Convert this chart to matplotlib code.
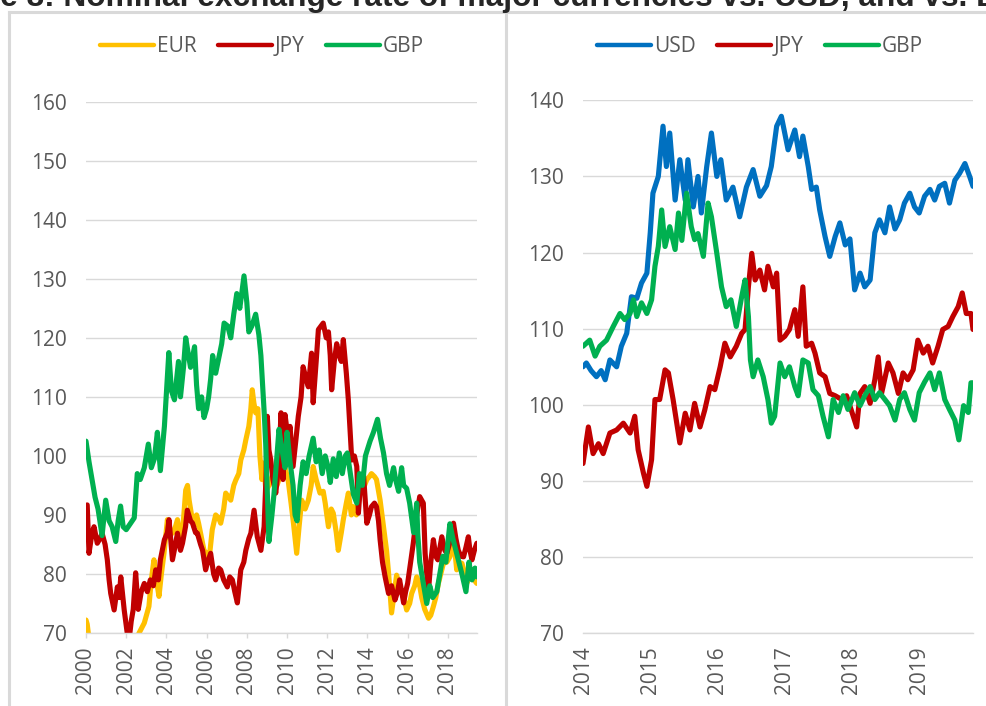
import numpy as np
import matplotlib
matplotlib.use('Agg')
import matplotlib.pyplot as plt
from matplotlib.lines import Line2D

# (year, index value) pairs
eur_left = [
    (2000.0, 72.2), (2000.06, 71.5), (2000.15, 69.0), (2000.4, 67.0), (2000.7, 65.0),
    (2001.0, 67.0), (2001.3, 66.0), (2001.6, 66.0), (2001.9, 67.0), (2002.2, 66.0),
    (2002.45, 68.5), (2002.64, 70.0), (2002.9, 71.7), (2003.13, 74.5), (2003.25, 79.0),
    (2003.38, 82.4), (2003.5, 79.0), (2003.63, 76.2), (2003.75, 80.0), (2003.88, 83.5),
    (2004.05, 89.2), (2004.15, 87.0), (2004.3, 86.9), (2004.45, 88.0), (2004.55, 89.2),
    (2004.7, 86.0), (2004.8, 87.0), (2004.96, 94.2), (2005.05, 95.0), (2005.13, 92.5),
    (2005.25, 90.0), (2005.37, 88.0), (2005.5, 90.0), (2005.6, 88.6), (2005.75, 86.0),
    (2005.87, 84.0), (2006.0, 83.5), (2006.12, 82.4), (2006.28, 87.5), (2006.45, 90.0),
    (2006.6, 89.5), (2006.7, 88.6), (2006.85, 91.0), (2006.95, 93.7), (2007.1, 93.0),
    (2007.2, 92.5), (2007.35, 95.0), (2007.45, 95.9), (2007.6, 97.0), (2007.7, 99.3),
    (2007.85, 101.0), (2007.95, 102.7), (2008.1, 105.0), (2008.2, 108.0), (2008.27, 111.2),
    (2008.35, 109.0), (2008.44, 107.3), (2008.55, 108.0), (2008.65, 100.0), (2008.75, 96.0),
    (2008.84, 98.8), (2008.95, 94.0), (2009.1, 95.0), (2009.3, 97.0), (2009.5, 95.0),
    (2009.7, 97.0), (2009.9, 98.0), (2010.05, 96.0), (2010.2, 92.0), (2010.32, 88.6),
    (2010.48, 83.5), (2010.6, 88.0), (2010.73, 92.5), (2010.9, 91.0), (2011.06, 92.5),
    (2011.2, 95.0), (2011.3, 98.2), (2011.45, 96.0), (2011.64, 93.7), (2011.8, 94.0),
    (2011.9, 92.0), (2012.06, 88.0), (2012.2, 91.0), (2012.3, 90.3), (2012.45, 87.0),
    (2012.55, 84.0), (2012.7, 87.0), (2012.8, 89.2), (2012.95, 92.0), (2013.05, 93.7),
    (2013.2, 90.0), (2013.3, 91.4), (2013.45, 90.0), (2013.63, 93.7), (2013.8, 94.5),
    (2013.97, 96.0), (2014.1, 96.5), (2014.2, 97.0), (2014.35, 96.5), (2014.45, 96.0),
    (2014.63, 92.5), (2014.8, 88.0), (2014.95, 84.0), (2015.05, 80.2), (2015.2, 73.4),
    (2015.3, 76.0), (2015.45, 79.8), (2015.6, 78.0), (2015.7, 77.0), (2015.85, 75.5),
    (2015.95, 73.9), (2016.1, 75.0), (2016.2, 76.7), (2016.35, 78.0), (2016.45, 79.5),
    (2016.6, 78.0), (2016.7, 76.0), (2016.85, 74.0), (2017.04, 72.5), (2017.15, 73.0),
    (2017.28, 74.5), (2017.4, 76.0), (2017.53, 78.4), (2017.65, 80.0), (2017.78, 81.8),
    (2017.95, 82.0), (2018.1, 82.9), (2018.2, 84.0), (2018.28, 86.3), (2018.44, 80.7),
    (2018.55, 82.0), (2018.7, 81.8), (2018.85, 80.0), (2018.94, 78.4), (2019.05, 79.5),
    (2019.2, 80.7), (2019.3, 79.0), (2019.44, 78.4),
]

jpy_left = [
    (2000.0, 91.5), (2000.06, 91.7), (2000.15, 83.5), (2000.3, 87.0), (2000.4, 88.0),
    (2000.56, 85.2), (2000.7, 86.0), (2000.8, 86.9), (2000.95, 85.0), (2001.06, 82.4),
    (2001.15, 79.0), (2001.23, 76.7), (2001.4, 73.9), (2001.56, 77.8), (2001.65, 76.0),
    (2001.73, 79.5), (2001.9, 73.9), (2002.05, 70.0), (2002.15, 69.0), (2002.25, 72.0),
    (2002.35, 74.0), (2002.47, 80.2), (2002.6, 74.0), (2002.75, 77.0), (2002.9, 78.4),
    (2003.05, 77.0), (2003.2, 79.0), (2003.35, 78.0), (2003.47, 80.7), (2003.6, 79.0),
    (2003.7, 82.4), (2003.9, 85.8), (2004.05, 87.0), (2004.13, 89.2), (2004.3, 82.4),
    (2004.45, 85.0), (2004.55, 86.9), (2004.7, 84.0), (2004.8, 85.2), (2004.95, 88.0),
    (2005.04, 90.8), (2005.2, 89.0), (2005.3, 88.6), (2005.45, 87.0), (2005.54, 86.9),
    (2005.7, 85.0), (2005.8, 84.0), (2005.95, 80.7), (2006.05, 82.0), (2006.2, 83.5),
    (2006.35, 80.0), (2006.45, 79.0), (2006.6, 81.0), (2006.7, 80.7), (2006.85, 79.0),
    (2007.03, 77.8), (2007.15, 79.5), (2007.28, 79.0), (2007.4, 77.0), (2007.53, 75.1),
    (2007.7, 80.7), (2007.85, 82.0), (2007.95, 84.0), (2008.1, 86.0), (2008.2, 86.9),
    (2008.36, 90.8), (2008.52, 86.3), (2008.7, 84.0), (2008.86, 88.0), (2008.95, 96.0),
    (2009.02, 106.7), (2009.1, 101.0), (2009.19, 99.3), (2009.3, 96.0), (2009.44, 93.7),
    (2009.6, 99.0), (2009.7, 107.3), (2009.8, 96.0), (2009.9, 107.0), (2010.05, 103.0),
    (2010.15, 105.0), (2010.3, 98.2), (2010.45, 103.0), (2010.56, 106.7), (2010.7, 110.0),
    (2010.8, 115.1), (2010.95, 113.0), (2011.06, 111.7), (2011.22, 117.4), (2011.3, 109.0),
    (2011.45, 116.0), (2011.56, 121.4), (2011.8, 122.5), (2011.95, 120.0), (2012.06, 121.0),
    (2012.15, 117.0), (2012.22, 111.2), (2012.35, 116.0), (2012.47, 119.0), (2012.6, 117.0),
    (2012.7, 116.0), (2012.8, 119.7), (2012.95, 114.0), (2013.05, 109.5), (2013.22, 99.3),
    (2013.35, 100.0), (2013.47, 98.2), (2013.55, 90.3), (2013.65, 95.0), (2013.8, 97.0),
    (2013.97, 88.6), (2014.1, 90.0), (2014.2, 91.4), (2014.35, 92.0), (2014.45, 91.4),
    (2014.55, 89.0), (2014.63, 85.8), (2014.75, 82.0), (2014.88, 79.5), (2015.05, 76.7),
    (2015.2, 78.0), (2015.37, 75.6), (2015.5, 77.0), (2015.6, 79.0), (2015.8, 75.1),
    (2015.9, 77.0), (2016.0, 78.4), (2016.15, 82.0), (2016.28, 85.2), (2016.45, 90.0),
    (2016.6, 93.1), (2016.78, 92.0), (2016.87, 83.5), (2016.95, 80.0), (2017.04, 77.3),
    (2017.15, 82.0), (2017.28, 85.8), (2017.4, 83.0), (2017.5, 82.4), (2017.7, 86.3),
    (2017.85, 84.0), (2017.95, 83.5), (2018.15, 86.0), (2018.28, 88.6), (2018.4, 86.0),
    (2018.52, 84.0), (2018.65, 83.0), (2018.78, 82.9), (2018.9, 84.5), (2019.02, 86.3),
    (2019.1, 84.0), (2019.2, 82.4), (2019.32, 84.0), (2019.44, 85.2),
]

gbp_left = [
    (2000.0, 102.5), (2000.15, 99.0), (2000.3, 96.0), (2000.45, 93.0), (2000.6, 91.0),
    (2000.8, 86.5), (2000.98, 92.5), (2001.15, 89.0), (2001.3, 88.0), (2001.48, 85.5),
    (2001.6, 89.0), (2001.72, 91.5), (2001.85, 88.0), (2002.0, 87.5), (2002.2, 88.5),
    (2002.4, 89.5), (2002.55, 97.0), (2002.7, 96.0), (2002.9, 98.0), (2003.1, 102.0),
    (2003.25, 98.0), (2003.4, 99.5), (2003.55, 104.0), (2003.7, 97.5), (2003.9, 105.0),
    (2004.05, 113.5), (2004.12, 117.5), (2004.25, 111.0), (2004.4, 109.5), (2004.6, 116.0),
    (2004.7, 110.0), (2004.85, 115.0), (2004.96, 120.0), (2005.1, 117.0), (2005.2, 115.0),
    (2005.4, 118.5), (2005.5, 112.0), (2005.6, 108.0), (2005.75, 110.0), (2005.87, 106.5),
    (2006.0, 108.0), (2006.1, 110.0), (2006.2, 113.0), (2006.3, 117.0), (2006.45, 114.0),
    (2006.6, 116.5), (2006.75, 119.0), (2006.87, 122.5), (2007.05, 122.0), (2007.2, 120.0),
    (2007.35, 124.0), (2007.5, 127.5), (2007.65, 125.0), (2007.86, 130.5), (2008.0, 126.0),
    (2008.1, 121.0), (2008.25, 122.0), (2008.44, 124.0), (2008.6, 120.5), (2008.7, 117.0),
    (2008.77, 113.0), (2008.87, 107.0), (2008.94, 102.0), (2009.02, 94.0), (2009.1, 85.5),
    (2009.25, 90.0), (2009.35, 93.5), (2009.5, 100.0), (2009.6, 104.5), (2009.75, 101.0),
    (2009.9, 98.0), (2010.0, 104.0), (2010.15, 99.0), (2010.3, 95.0), (2010.4, 90.0),
    (2010.5, 89.0), (2010.65, 95.0), (2010.8, 99.0), (2010.95, 97.0), (2011.1, 100.0),
    (2011.3, 103.0), (2011.45, 99.0), (2011.6, 101.0), (2011.75, 97.0), (2011.9, 100.0),
    (2012.05, 98.0), (2012.15, 95.5), (2012.3, 99.5), (2012.45, 96.5), (2012.6, 100.5),
    (2012.75, 97.0), (2012.9, 100.0), (2013.0, 100.5), (2013.15, 97.0), (2013.3, 93.5),
    (2013.47, 92.0), (2013.6, 97.0), (2013.75, 95.0), (2013.9, 100.0), (2014.13, 102.5),
    (2014.3, 104.0), (2014.5, 106.2), (2014.65, 103.0), (2014.8, 100.5), (2014.95, 97.0),
    (2015.1, 95.0), (2015.3, 98.0), (2015.4, 96.0), (2015.55, 94.0), (2015.7, 98.0),
    (2015.8, 95.0), (2015.95, 94.5), (2016.1, 92.0), (2016.3, 87.0), (2016.45, 92.0),
    (2016.5, 87.0), (2016.6, 82.0), (2016.75, 79.0), (2016.95, 75.0), (2017.1, 78.0),
    (2017.25, 76.0), (2017.45, 77.0), (2017.6, 80.0), (2017.75, 83.0), (2017.9, 82.0),
    (2018.1, 88.5), (2018.25, 86.0), (2018.4, 84.0), (2018.55, 82.0), (2018.7, 80.0),
    (2018.9, 77.0), (2019.05, 82.0), (2019.2, 79.0), (2019.35, 81.0), (2019.44, 79.5),
]

usd_right = [
    (2014.0, 105.0), (2014.05, 105.5), (2014.12, 104.5), (2014.2, 103.7), (2014.27, 104.5),
    (2014.33, 103.3), (2014.4, 105.9), (2014.5, 105.0), (2014.57, 107.7), (2014.65, 109.4),
    (2014.72, 114.2), (2014.8, 114.0), (2014.87, 116.0), (2014.95, 117.3), (2015.0, 122.6),
    (2015.04, 127.8), (2015.12, 130.0), (2015.19, 136.6), (2015.24, 131.3), (2015.29, 135.7),
    (2015.37, 126.9), (2015.44, 132.2), (2015.52, 126.9), (2015.56, 132.2), (2015.64, 126.0),
    (2015.71, 130.0), (2015.76, 125.2), (2015.84, 131.3), (2015.91, 135.7), (2015.99, 130.0),
    (2016.05, 132.2), (2016.13, 126.9), (2016.23, 128.6), (2016.33, 124.7), (2016.43, 128.6),
    (2016.53, 130.9), (2016.63, 127.4), (2016.73, 128.8), (2016.8, 131.3), (2016.88, 136.6),
    (2016.95, 137.9), (2017.05, 133.5), (2017.15, 136.1), (2017.22, 132.6), (2017.27, 135.3),
    (2017.35, 131.3), (2017.4, 128.3), (2017.47, 128.6), (2017.52, 125.6), (2017.6, 122.1),
    (2017.67, 119.5), (2017.75, 122.1), (2017.82, 123.9), (2017.9, 121.0), (2017.97, 121.8),
    (2018.04, 115.1), (2018.12, 117.3), (2018.19, 115.5), (2018.27, 116.4), (2018.34, 122.6),
    (2018.41, 124.3), (2018.49, 122.6), (2018.56, 126.0), (2018.64, 123.1), (2018.71, 124.3),
    (2018.78, 126.5), (2018.86, 127.8), (2018.93, 126.0), (2019.0, 125.2), (2019.08, 127.4),
    (2019.16, 128.3), (2019.23, 126.9), (2019.3, 128.7), (2019.38, 129.1), (2019.45, 126.5),
    (2019.53, 129.5), (2019.6, 130.4), (2019.68, 131.7), (2019.75, 130.0), (2019.8, 128.7),
]

jpy_right = [
    (2014.0, 92.3), (2014.08, 97.1), (2014.15, 93.6), (2014.23, 94.9), (2014.3, 93.6),
    (2014.4, 96.3), (2014.5, 96.7), (2014.6, 97.6), (2014.7, 96.3), (2014.77, 98.5),
    (2014.82, 94.1), (2014.9, 91.0), (2014.95, 89.3), (2015.02, 92.8), (2015.07, 100.7),
    (2015.14, 100.7), (2015.22, 104.6), (2015.27, 104.2), (2015.34, 100.7), (2015.44, 95.0),
    (2015.52, 98.9), (2015.59, 96.7), (2015.66, 100.2), (2015.74, 97.1), (2015.81, 99.3),
    (2015.89, 102.4), (2015.96, 102.0), (2016.04, 105.0), (2016.11, 108.1), (2016.19, 106.3),
    (2016.28, 107.7), (2016.36, 109.4), (2016.41, 109.9), (2016.46, 115.5), (2016.51, 119.9),
    (2016.56, 116.4), (2016.63, 117.7), (2016.7, 115.1), (2016.75, 118.2), (2016.83, 115.5),
    (2016.88, 117.3), (2016.93, 108.5), (2017.0, 109.0), (2017.07, 109.9), (2017.15, 112.5),
    (2017.2, 109.0), (2017.27, 115.5), (2017.32, 107.7), (2017.4, 108.1), (2017.45, 106.8),
    (2017.52, 104.2), (2017.6, 103.7), (2017.67, 101.5), (2017.75, 101.2), (2017.85, 100.7),
    (2017.92, 101.2), (2017.99, 99.3), (2018.07, 97.1), (2018.12, 101.5), (2018.19, 102.4),
    (2018.27, 100.2), (2018.34, 103.3), (2018.39, 106.3), (2018.44, 101.5), (2018.54, 105.5),
    (2018.61, 104.2), (2018.69, 101.5), (2018.76, 104.2), (2018.83, 103.3), (2018.91, 104.6),
    (2018.98, 108.5), (2019.06, 106.8), (2019.13, 107.7), (2019.2, 105.5), (2019.28, 107.7),
    (2019.35, 109.9), (2019.43, 110.3), (2019.5, 111.6), (2019.58, 112.9), (2019.64, 114.7),
    (2019.7, 112.0), (2019.77, 112.0), (2019.8, 109.9),
]

gbp_right = [
    (2014.0, 107.7), (2014.1, 108.5), (2014.18, 106.4), (2014.25, 107.7), (2014.35, 108.5),
    (2014.45, 110.3), (2014.55, 112.0), (2014.62, 111.2), (2014.7, 112.0), (2014.75, 113.8),
    (2014.8, 111.6), (2014.87, 113.4), (2014.95, 112.0), (2015.02, 113.8), (2015.07, 118.2),
    (2015.12, 120.8), (2015.17, 125.6), (2015.22, 120.8), (2015.29, 123.4), (2015.37, 120.4),
    (2015.42, 125.2), (2015.47, 121.6), (2015.54, 127.8), (2015.61, 123.4), (2015.66, 121.7),
    (2015.71, 122.5), (2015.79, 119.5), (2015.86, 126.5), (2015.91, 124.7), (2015.99, 119.9),
    (2016.06, 115.5), (2016.13, 112.9), (2016.2, 113.8), (2016.28, 110.3), (2016.36, 114.2),
    (2016.41, 116.4), (2016.46, 111.6), (2016.49, 105.9), (2016.53, 103.7), (2016.6, 105.9),
    (2016.68, 103.7), (2016.75, 100.7), (2016.8, 97.6), (2016.85, 98.5), (2016.93, 105.5),
    (2017.0, 103.7), (2017.07, 105.0), (2017.15, 102.4), (2017.2, 101.2), (2017.27, 105.9),
    (2017.35, 105.5), (2017.42, 102.0), (2017.5, 101.2), (2017.57, 98.5), (2017.65, 95.8),
    (2017.72, 100.7), (2017.8, 99.0), (2017.87, 101.2), (2017.94, 99.4), (2018.04, 101.6),
    (2018.12, 99.9), (2018.19, 101.2), (2018.27, 102.4), (2018.34, 100.7), (2018.41, 101.6),
    (2018.49, 100.7), (2018.56, 99.9), (2018.64, 98.0), (2018.71, 100.7), (2018.78, 101.6),
    (2018.86, 99.4), (2018.93, 98.0), (2019.0, 101.6), (2019.08, 103.0), (2019.16, 104.2),
    (2019.23, 102.0), (2019.3, 104.2), (2019.38, 100.7), (2019.45, 99.4), (2019.53, 98.0),
    (2019.59, 95.4), (2019.66, 99.9), (2019.73, 99.0), (2019.77, 102.9), (2019.8, 102.9),
]

left_xticks = [2000, 2002, 2004, 2006, 2008, 2010, 2012, 2014, 2016, 2018]
right_xticks = [2014, 2015, 2016, 2017, 2018, 2019]
left_yticks = [70, 80, 90, 100, 110, 120, 130, 140, 150, 160]
right_yticks = [70, 80, 90, 100, 110, 120, 130, 140]

TITLE = 'Figure 8: Nominal exchange rate of major currencies vs. USD, and vs. EUR'

EUR_C = '#FFC000'
JPY_C = '#C00000'
GBP_C = '#00B050'
USD_C = '#0070C0'
GRID_C = '#D9D9D9'
TEXT_C = '#595959'

W, H = 986, 706
LW = 3.7
FS = 15

plt.rcParams['font.family'] = ['Open Sans', 'DejaVu Sans']


def px_rect(x0, y0, x1, y1):
    """Axes rectangle in figure fractions from pixel corners (top-left origin)."""
    return [x0 / W, 1 - y1 / H, (x1 - x0) / W, (y1 - y0) / H]


def style_axis(ax, xticks, yticks, xlim, ylim, tick_len):
    ax.set_xlim(*xlim)
    ax.set_ylim(*ylim)
    ax.set_xticks(xticks)
    ax.set_xticklabels([str(t) for t in xticks], rotation=90)
    ax.set_yticks(yticks)
    for side in ['top', 'right', 'left']:
        ax.spines[side].set_visible(False)
    ax.spines['bottom'].set_color(GRID_C)
    ax.spines['bottom'].set_linewidth(1.0)
    ax.yaxis.grid(True, color=GRID_C, linewidth=1.0)
    ax.set_axisbelow(True)
    ax.tick_params(axis='y', length=0, pad=14, labelsize=FS, labelcolor=TEXT_C)
    ax.tick_params(axis='x', length=tick_len, width=1.0, color=GRID_C,
                   pad=9.5 - tick_len, labelsize=FS, labelcolor=TEXT_C)


def draw_series(ax, pairs, color):
    arr = np.array(pairs)
    ax.plot(arr[:, 0], arr[:, 1], color=color, linewidth=LW,
            solid_joinstyle='round', solid_capstyle='round')


fig = plt.figure(figsize=(W / 100, H / 100), dpi=100)

ax1 = fig.add_axes(px_rect(86, 101.7, 477, 633))
draw_series(ax1, eur_left, EUR_C)
draw_series(ax1, jpy_left, JPY_C)
draw_series(ax1, gbp_left, GBP_C)
style_axis(ax1, left_xticks, left_yticks, (2000, 2019.45), (70, 160), 3.6)

ax2 = fig.add_axes(px_rect(583, 100.3, 973, 633.3))
draw_series(ax2, usd_right, USD_C)
draw_series(ax2, jpy_right, JPY_C)
draw_series(ax2, gbp_right, GBP_C)
style_axis(ax2, right_xticks, right_yticks, (2014, 2019.8), (70, 140), 0)


# legends
def make_legend(names, colors, cx):
    handles = [Line2D([], [], color=c, linewidth=3.2, solid_capstyle='round') for c in colors]
    fig.legend(handles, names, loc='center', bbox_to_anchor=(cx / W, 1 - 47 / H),
               ncol=3, frameon=False, handlelength=2.6, handletextpad=0.15,
               columnspacing=1.0, fontsize=FS, labelcolor=TEXT_C, borderaxespad=0)


make_legend(['EUR', 'JPY', 'GBP'], [EUR_C, JPY_C, GBP_C], 262)
make_legend(['USD', 'JPY', 'GBP'], [USD_C, JPY_C, GBP_C], 760)

# panel frames
frame_kw = dict(color=GRID_C, linewidth=2.2, transform=fig.transFigure)
fig.add_artist(Line2D([9 / W, 9 / W], [0, 1 - 12 / H], **frame_kw))
fig.add_artist(Line2D([506 / W, 506 / W], [0, 1 - 12 / H], **frame_kw))
fig.add_artist(Line2D([9 / W, 1], [1 - 12 / H, 1 - 12 / H], **frame_kw))

# title sits mostly above the canvas, as in the cropped original
title_kw = dict(fontsize=22.8, fontweight='bold', family=['Liberation Sans', 'DejaVu Sans'],
                color='#262626')
renderer = fig.canvas.get_renderer()
probe = fig.text(0, 0, 'Figur', **title_kw)
prefix_w = probe.get_window_extent(renderer).width
probe.remove()
fig.text(-prefix_w / W, 1 - 6 / H, TITLE, va='baseline', ha='left', **title_kw)

fig.savefig('out.png', dpi=100)
